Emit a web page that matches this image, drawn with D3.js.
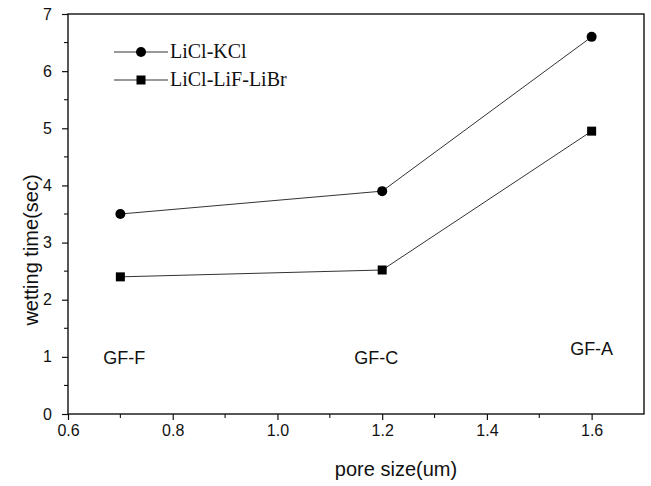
<!DOCTYPE html>
<html>
<head>
<meta charset="utf-8">
<script src="https://cdn.jsdelivr.net/npm/d3@7"></script>
<style>
  html, body { margin: 0; padding: 0; background: #fff; }
  svg { display: block; }
</style>
</head>
<body>
<svg id="chart" width="651" height="486"></svg>
<script>
// ---- data ----
const poreSizes = [0.7, 1.2, 1.6];
const filterNames = ["GF-F", "GF-C", "GF-A"];
const seriesNames = ["LiCl-KCl", "LiCl-LiF-LiBr"];
const licl_kcl = [3.5, 3.9, 6.6];
const licl_lif_libr = [2.4, 2.52, 4.95];
const xTicks = [0.6, 0.8, 1.0, 1.2, 1.4, 1.6];
const yTicks = [0, 1, 2, 3, 4, 5, 6, 7];
const xLabel = "pore size(um)";
const yLabel = "wetting time(sec)";

// ---- layout ----
const svg = d3.select("#chart");
const pL = 68, pR = 644, pT = 14, pB = 414;
const x = d3.scaleLinear().domain([0.6, 1.7]).range([pL, pR]);
const y = d3.scaleLinear().domain([0, 7]).range([pB, pT]);
const axisColor = "#111";
const sans = "Arial, 'Liberation Sans', Helvetica, sans-serif";
const serif = "'Book Antiqua', Palatino, 'Liberation Serif', 'Times New Roman', serif";

// frame
svg.append("rect")
  .attr("x", pL).attr("y", pT)
  .attr("width", pR - pL).attr("height", pB - pT)
  .attr("fill", "none").attr("stroke", axisColor).attr("stroke-width", 1.4);

// x axis
const xAxis = d3.axisBottom(x).tickValues(xTicks).tickFormat(d3.format(".1f")).tickSize(6).tickPadding(5);
const gx = svg.append("g").attr("transform", `translate(0,${pB})`).call(xAxis);
gx.select(".domain").remove();
gx.selectAll("line").attr("stroke", axisColor).attr("stroke-width", 1.2);
gx.selectAll("text").attr("font-family", sans).attr("font-size", 16).attr("fill", "#111");
// minor x ticks
const xMinor = [0.7, 0.9, 1.1, 1.3, 1.5];
svg.append("g").selectAll("line").data(xMinor).join("line")
  .attr("x1", d => x(d)).attr("x2", d => x(d))
  .attr("y1", pB).attr("y2", pB + 4)
  .attr("stroke", axisColor).attr("stroke-width", 1.1);

// y axis
const yAxis = d3.axisLeft(y).tickValues(yTicks).tickFormat(d3.format("d")).tickSize(6).tickPadding(10);
const gy = svg.append("g").attr("transform", `translate(${pL},0)`).call(yAxis);
gy.select(".domain").remove();
gy.selectAll("line").attr("stroke", axisColor).attr("stroke-width", 1.2);
gy.selectAll("text").attr("font-family", sans).attr("font-size", 16).attr("fill", "#111");
const yMinor = [0.5, 1.5, 2.5, 3.5, 4.5, 5.5, 6.5];
svg.append("g").selectAll("line").data(yMinor).join("line")
  .attr("x1", pL - 4).attr("x2", pL)
  .attr("y1", d => y(d)).attr("y2", d => y(d))
  .attr("stroke", axisColor).attr("stroke-width", 1.1);

// axis titles
svg.append("text")
  .attr("x", 396).attr("y", 476)
  .attr("text-anchor", "middle")
  .attr("font-family", sans).attr("font-size", 20).attr("fill", "#111")
  .text(xLabel);
svg.append("text")
  .attr("transform", `translate(38,250) rotate(-90)`)
  .attr("text-anchor", "middle")
  .attr("font-family", sans).attr("font-size", 20).attr("fill", "#111")
  .text(yLabel);

// lines
const line = d3.line().x((d, i) => x(poreSizes[i])).y(d => y(d));
const series = [licl_kcl, licl_lif_libr];
series.forEach((vals) => {
  svg.append("path").datum(vals)
    .attr("d", line).attr("fill", "none")
    .attr("stroke", "#333").attr("stroke-width", 1);
});
// markers
svg.append("g").selectAll("circle").data(licl_kcl).join("circle")
  .attr("cx", (d, i) => x(poreSizes[i])).attr("cy", d => y(d))
  .attr("r", 5).attr("fill", "#000");
svg.append("g").selectAll("rect").data(licl_lif_libr).join("rect")
  .attr("x", (d, i) => x(poreSizes[i]) - 4.5).attr("y", d => y(d) - 4.5)
  .attr("width", 9).attr("height", 9).attr("fill", "#000");

// filter annotations
const annY = [1.0, 1.0, 1.15];
const annDx = [4, -6, 0];
svg.append("g").selectAll("text").data(filterNames).join("text")
  .attr("x", (d, i) => x(poreSizes[i]) + annDx[i])
  .attr("y", (d, i) => y(annY[i]) + 7)
  .attr("text-anchor", "middle")
  .attr("font-family", sans).attr("font-size", 18).attr("fill", "#111")
  .text(d => d);

// legend
const legX = 114, legY = [52, 80];
seriesNames.forEach((name, i) => {
  const g = svg.append("g");
  g.append("line").attr("x1", legX).attr("x2", legX + 54)
    .attr("y1", legY[i]).attr("y2", legY[i])
    .attr("stroke", "#333").attr("stroke-width", 1);
  if (i === 0) {
    g.append("circle").attr("cx", legX + 27).attr("cy", legY[i]).attr("r", 5).attr("fill", "#000");
  } else {
    g.append("rect").attr("x", legX + 27 - 4.5).attr("y", legY[i] - 4.5)
      .attr("width", 9).attr("height", 9).attr("fill", "#000");
  }
  g.append("text").attr("x", legX + 56).attr("y", legY[i] + 6)
    .attr("font-family", serif).attr("font-size", 20).attr("fill", "#111")
    .text(name);
});
</script>
</body>
</html>
